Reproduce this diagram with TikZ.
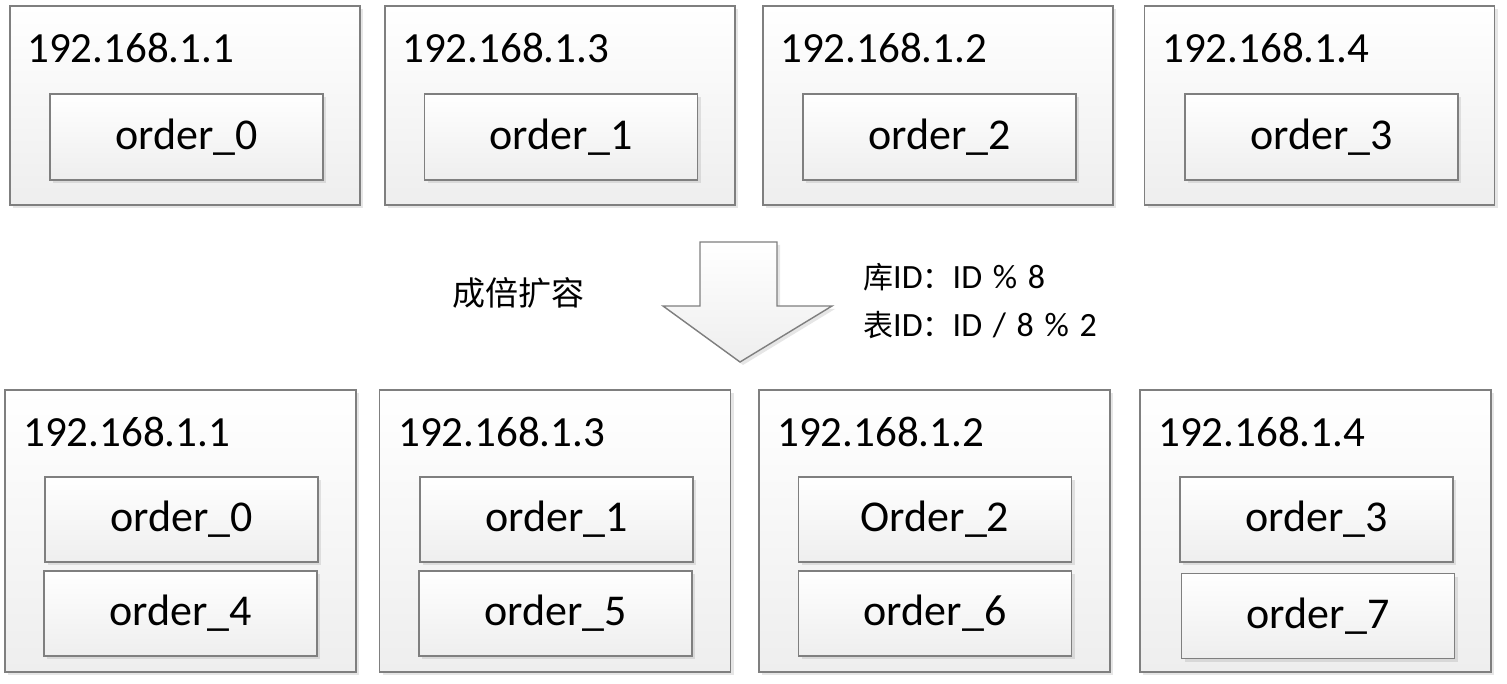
\documentclass[tikz,border=0pt]{standalone}
\usepackage{fontspec}
\setmainfont{Carlito}
\newfontfamily\cjk{Noto Sans CJK SC}
\newcommand\cjktext[1]{{\cjk\fontsize{30}{34}\selectfont #1}}
\usepackage{xcolor}
\usetikzlibrary{shadows, positioning}

\definecolor{boxline}{HTML}{7F7F7F}
\definecolor{boxfill}{HTML}{EEEEEE}

\begin{document}
\begin{tikzpicture}[
    x=1pt, y=-1pt,
    server/.style={rectangle, draw=boxline, line width=1.4pt, top color=white, bottom color=boxfill,
        minimum width=350pt, drop shadow={shadow xshift=3pt, shadow yshift=-3pt, opacity=0.2}},
    table/.style={rectangle, draw=boxline, line width=1.4pt, top color=white, bottom color=boxfill,
        minimum width=273pt, minimum height=86pt, font=\fontsize{44}{50}\selectfont,
        drop shadow={shadow xshift=3pt, shadow yshift=-3pt, opacity=0.2}},
    ip/.style={anchor=base west, inner sep=0pt, font=\fontsize{43}{48}\selectfont},
    note/.style={anchor=base west, inner sep=0pt, font=\fontsize{34}{38}\selectfont}
]
    \useasboundingbox (0,0) rectangle (1507,684);

    % before: one table per server
    \node[server, minimum height=199pt] (s1) at (185,105.5) {};
    \node[server, minimum height=199pt] (s3) at (560,105.5) {};
    \node[server, minimum height=199pt] (s2) at (938,105.5) {};
    \node[server, minimum height=199pt] (s4) at (1319.5,105.5) {};

    \node[ip] (ip1) at (27,63) {192.168.1.1};
    \node[ip] (ip3) at (402,63) {192.168.1.3};
    \node[ip] (ip2) at (780,63) {192.168.1.2};
    \node[ip] (ip4) at (1162,63) {192.168.1.4};

    \node[table] (t0) at (186.5,137) {order\_0};
    \node[table] (t1) at (561,137) {order\_1};
    \node[table] (t2) at (939.5,137) {order\_2};
    \node[table] (t3) at (1321.5,137) {order\_3};

    % block arrow
    \path[draw=boxline, line width=1.4pt, top color=white, bottom color=boxfill,
        drop shadow={shadow xshift=3pt, shadow yshift=-3pt, opacity=0.2}]
        (700,242) -- (777,242) -- (777,306) -- (832,306) -- (740,362)
        -- (663,306) -- (700,306) -- cycle;

    \node[note, font=\fontsize{33}{38}\selectfont\cjk] (double) at (452,306) {成倍扩容};
    \node[note] (dbrule) at (863,289) {\cjktext{库}ID\cjktext{：}ID\hspace{3pt} \%\hspace{3pt} 8};
    \node[note] (tbrule) at (863,337) {\cjktext{表}ID\cjktext{：}ID\hspace{3pt} /\hspace{3pt} 8\hspace{3pt} \%\hspace{3pt} 2};

    % after: two tables per server
    \node[server, minimum width=351pt, minimum height=282pt] (n1) at (180.5,531) {};
    \node[server, minimum width=351pt, minimum height=282pt] (n3) at (555,531) {};
    \node[server, minimum width=351pt, minimum height=282pt] (n2) at (934.5,531) {};
    \node[server, minimum width=351pt, minimum height=282pt] (n4) at (1315.5,531) {};

    \node[ip] (nip1) at (23,446) {192.168.1.1};
    \node[ip] (nip3) at (398,446) {192.168.1.3};
    \node[ip] (nip2) at (777,446) {192.168.1.2};
    \node[ip] (nip4) at (1158,446) {192.168.1.4};

    \node[table, minimum height=85pt] (o0) at (181.5,519.5) {order\_0};
    \node[table, minimum height=85pt] (o4) at (180.5,613.5) {order\_4};
    \node[table, minimum height=85pt] (o1) at (556.5,519.5) {order\_1};
    \node[table, minimum height=85pt] (o5) at (555.5,613.5) {order\_5};
    \node[table, minimum height=85pt] (o2) at (935,519.5) {Order\_2};
    \node[table, minimum height=85pt] (o6) at (935,613.5) {order\_6};
    \node[table, minimum height=85pt] (o3) at (1316.5,519.5) {order\_3};
    \node[table, minimum height=85pt] (o7) at (1318,616) {order\_7};
\end{tikzpicture}
\end{document}
